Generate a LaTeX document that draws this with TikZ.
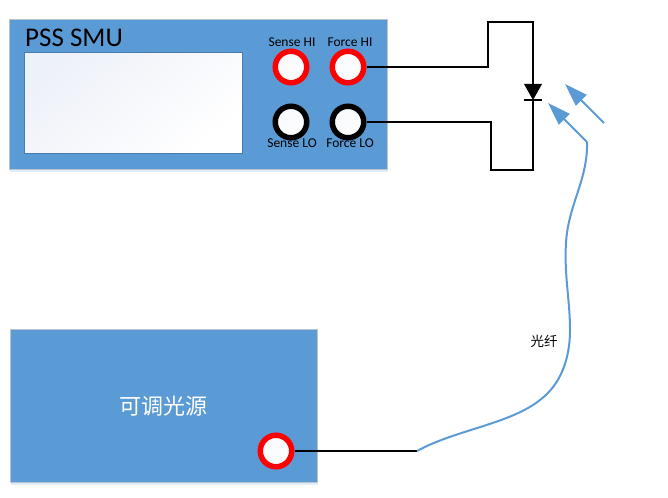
\documentclass[tikz,border=0pt]{standalone}
\usepackage{fontspec}
\usepackage{tikz}
\usetikzlibrary{arrows.meta,shadows}
\setmainfont{Carlito}
\newfontfamily\cjk{Noto Sans CJK SC}
\definecolor{panelblue}{HTML}{5B9BD5}
\definecolor{paneledge}{HTML}{B9C4CF}
\definecolor{paleblue}{HTML}{E6EBF6}
\tikzset{
  panel/.style={draw=paneledge,line width=1.2pt,fill=panelblue,inner sep=0pt,anchor=north west,
    drop shadow={shadow xshift=0pt,shadow yshift=-2.5pt,opacity=.18,fill=panelblue}},
  port/.style={circle,draw=#1,line width=5.5pt,left color=paleblue!30,right color=white,shading angle=45,minimum size=31.5pt,inner sep=0pt},
  wire/.style={draw=black,line width=2pt},
  fibre/.style={draw=panelblue,line width=2pt},
  ray/.style={draw=panelblue,line width=2pt,-{Triangle[length=23pt,width=15pt]}},
  portlabel/.style={font=\fontsize{13.5pt}{15pt}\selectfont,text=black,inner sep=0pt,anchor=base}
}
\begin{document}
\begin{tikzpicture}[x=1pt,y=-1pt]
\useasboundingbox (0,0) rectangle (668,497);
\node [panel,minimum width=378pt,minimum height=150pt] (smu) at (9,19) {};
\node [draw=panelblue!80!black,line width=.9pt,left color=paleblue!70,right color=white,shading angle=40,inner sep=0pt,anchor=north west,minimum width=218pt,minimum height=101pt] (screen) at (24,52) {};
\node [anchor=base west,inner sep=0pt,font=\fontsize{27pt}{31pt}\selectfont] (smuname) at (25,47) {PSS SMU};
\node [port=red] (shi) at (291,67) {};
\node [port=red] (fhi) at (348,67) {};
\node [port=black] (slo) at (291,122) {};
\node [port=black] (flo) at (348,122) {};
\node [portlabel] (shilabel) at (292,47) {Sense HI};
\node [portlabel] (fhilabel) at (350,47) {Force HI};
\node [portlabel] (slolabel) at (292,148) {Sense LO};
\node [portlabel] (flolabel) at (350,148) {Force LO};
\node [panel,minimum width=307pt,minimum height=153pt] (source) at (10,329) {};
\node [text=white,inner sep=0pt,font=\cjk\fontsize{22pt}{26pt}\selectfont] (sourcename) at (163,406) {可调光源};
\node [port=red] (out) at (276,451) {};
% diode
\coordinate (anode) at (533,84);
\coordinate (cathode) at (533,100);
\fill (524,84) -- (542,84) -- (533,100) -- cycle;
\draw [line width=1.3pt] (524,100) -- (542,100);
\draw [wire] (fhi.east) -- (488,67) -- (488,22) -- (533,22) -- (anode);
\draw [wire] (flo.east) -- (491,122) -- (491,170) -- (533,170) -- (cathode);
% light
\coordinate (fibrestart) at (417,451);
\coordinate (fibrebend) at (587,142);
\coordinate (raytail) at (604,123);
\coordinate (raytip) at (565,84);
\coordinate (fibretip) at (548,103);
\draw [wire] (out.east) -- (fibrestart);
\draw [fibre] (fibrestart) .. controls (455,430) and (510,424) .. (540,400) .. controls (560,385) and (570,360) .. (570,330) .. controls (570,300) and (564,275) .. (566,243) .. controls (568,205) and (588,180) .. (fibrebend);
\draw [ray] (fibrebend) -- (fibretip);
\draw [ray] (raytail) -- (raytip);
\node [inner sep=0pt,font=\cjk\fontsize{13.5pt}{16pt}\selectfont] (fibrelabel) at (544,341) {光纤};
\end{tikzpicture}
\end{document}
